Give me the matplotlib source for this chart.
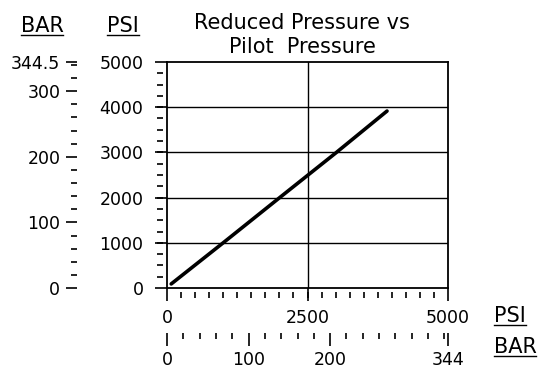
import matplotlib
matplotlib.use('Agg')
import matplotlib.pyplot as plt
import numpy as np
from matplotlib.lines import Line2D

# pilot pressure (psi) vs reduced pressure (psi)
pilot_psi = [75, 1000, 2000, 3000, 3915]
reduced_psi = [90, 1000, 1995, 2985, 3915]

psi_major = [0, 1000, 2000, 3000, 4000, 5000]
psi_x_major = [0, 2500, 5000]
bar_y_major = [0, 100, 200, 300, 344.5]
bar_y_labels = ['0', '100', '200', '300', '344.5']
bar_x_major = [0, 100, 200, 344.5]
bar_x_labels = ['0', '100', '200', '344']
title_lines = ['Reduced Pressure vs', 'Pilot  Pressure']

W, H = 539, 377
BAR_PER_PSI = 344.5 / 5000
TS = 12.5  # tick label size


def to_bar(p):
    return np.asarray(p) * BAR_PER_PSI


def to_psi(b):
    return np.asarray(b) / BAR_PER_PSI


fig = plt.figure(figsize=(W / 100, H / 100), dpi=100)
L, R, T, B = 167, 448, 62, 288
ax = fig.add_axes([L / W, 1 - B / H, (R - L) / W, (B - T) / H])
ax.set_xlim(0, 5000); ax.set_ylim(0, 5000)
for s in ax.spines.values():
    s.set_linewidth(1.3); s.set_color('black')
for v in psi_major[1:-1]:
    ax.axhline(v, color='black', lw=1.0, zorder=1)
ax.axvline(2500, color='black', lw=1.0, zorder=1)
ax.plot(pilot_psi, reduced_psi, color='black', lw=2.6, solid_capstyle='round', zorder=3)

# main PSI ticks (majors touch the frame)
ax.set_yticks(psi_major)
ax.set_xticks(psi_x_major)
ax.tick_params(axis='y', which='major', direction='out', length=9, width=1.2, pad=8, labelsize=TS)
ax.tick_params(axis='x', which='major', direction='out', length=9, width=1.2, pad=6, labelsize=TS)
ax.minorticks_off()

# minor PSI ticks sit a few pixels off the frame
sy = ax.secondary_yaxis(-4 / (R - L))
sy.set_yticks([]); sy.set_yticks(np.arange(250, 5000, 250), minor=True)
sy.spines['left'].set_visible(False)
sy.tick_params(which='minor', direction='out', length=4, width=1.2)
sx = ax.secondary_xaxis(-4 / (B - T))
sx.set_xticks([]); sx.set_xticks(np.arange(250, 5000, 250), minor=True)
sx.spines['bottom'].set_visible(False)
sx.tick_params(which='minor', direction='out', length=4, width=1.2)

# BAR axes
by = ax.secondary_yaxis(-(L - 77) / (R - L), functions=(to_bar, to_psi))
by.set_yticks(bar_y_major, bar_y_labels)
by.set_yticks(np.arange(20, 341, 20), minor=True)
by.spines['left'].set_visible(False)
by.tick_params(which='major', direction='out', length=8, width=1.2, pad=4, labelsize=TS)
by.tick_params(which='minor', direction='out', length=4, width=1.2)

bx = ax.secondary_xaxis(-(333 - B) / (B - T), functions=(to_bar, to_psi))
bx.set_xticks(bar_x_major, bar_x_labels)
bx.set_xticks(np.arange(20, 341, 20), minor=True)
bx.spines['bottom'].set_visible(False)
bx.tick_params(which='major', direction='out', length=9, width=1.2, pad=4, labelsize=TS)
bx.tick_params(which='minor', direction='out', length=4, width=1.2)

for line, yb in zip(title_lines, [29, 53]):
    fig.text(302 / W, 1 - yb / H, line, ha='center', va='baseline', fontsize=15)

labels = []
for txt, x, y in [('BAR', 42, 32), ('PSI', 123, 32), ('PSI', 510, 322), ('BAR', 515, 353)]:
    labels.append(fig.text(x / W, 1 - y / H, txt, ha='center', va='baseline', fontsize=15))

fig.canvas.draw()
r = fig.canvas.get_renderer()
for t in labels:
    bb = t.get_window_extent(r)
    x0, y0 = t.get_position()
    yy = y0 * H - 3
    fig.add_artist(Line2D([bb.x0 / W, bb.x1 / W], [yy / H, yy / H], color='black', lw=1.0,
                          transform=fig.transFigure))

fig.savefig('out.png', dpi=100)
